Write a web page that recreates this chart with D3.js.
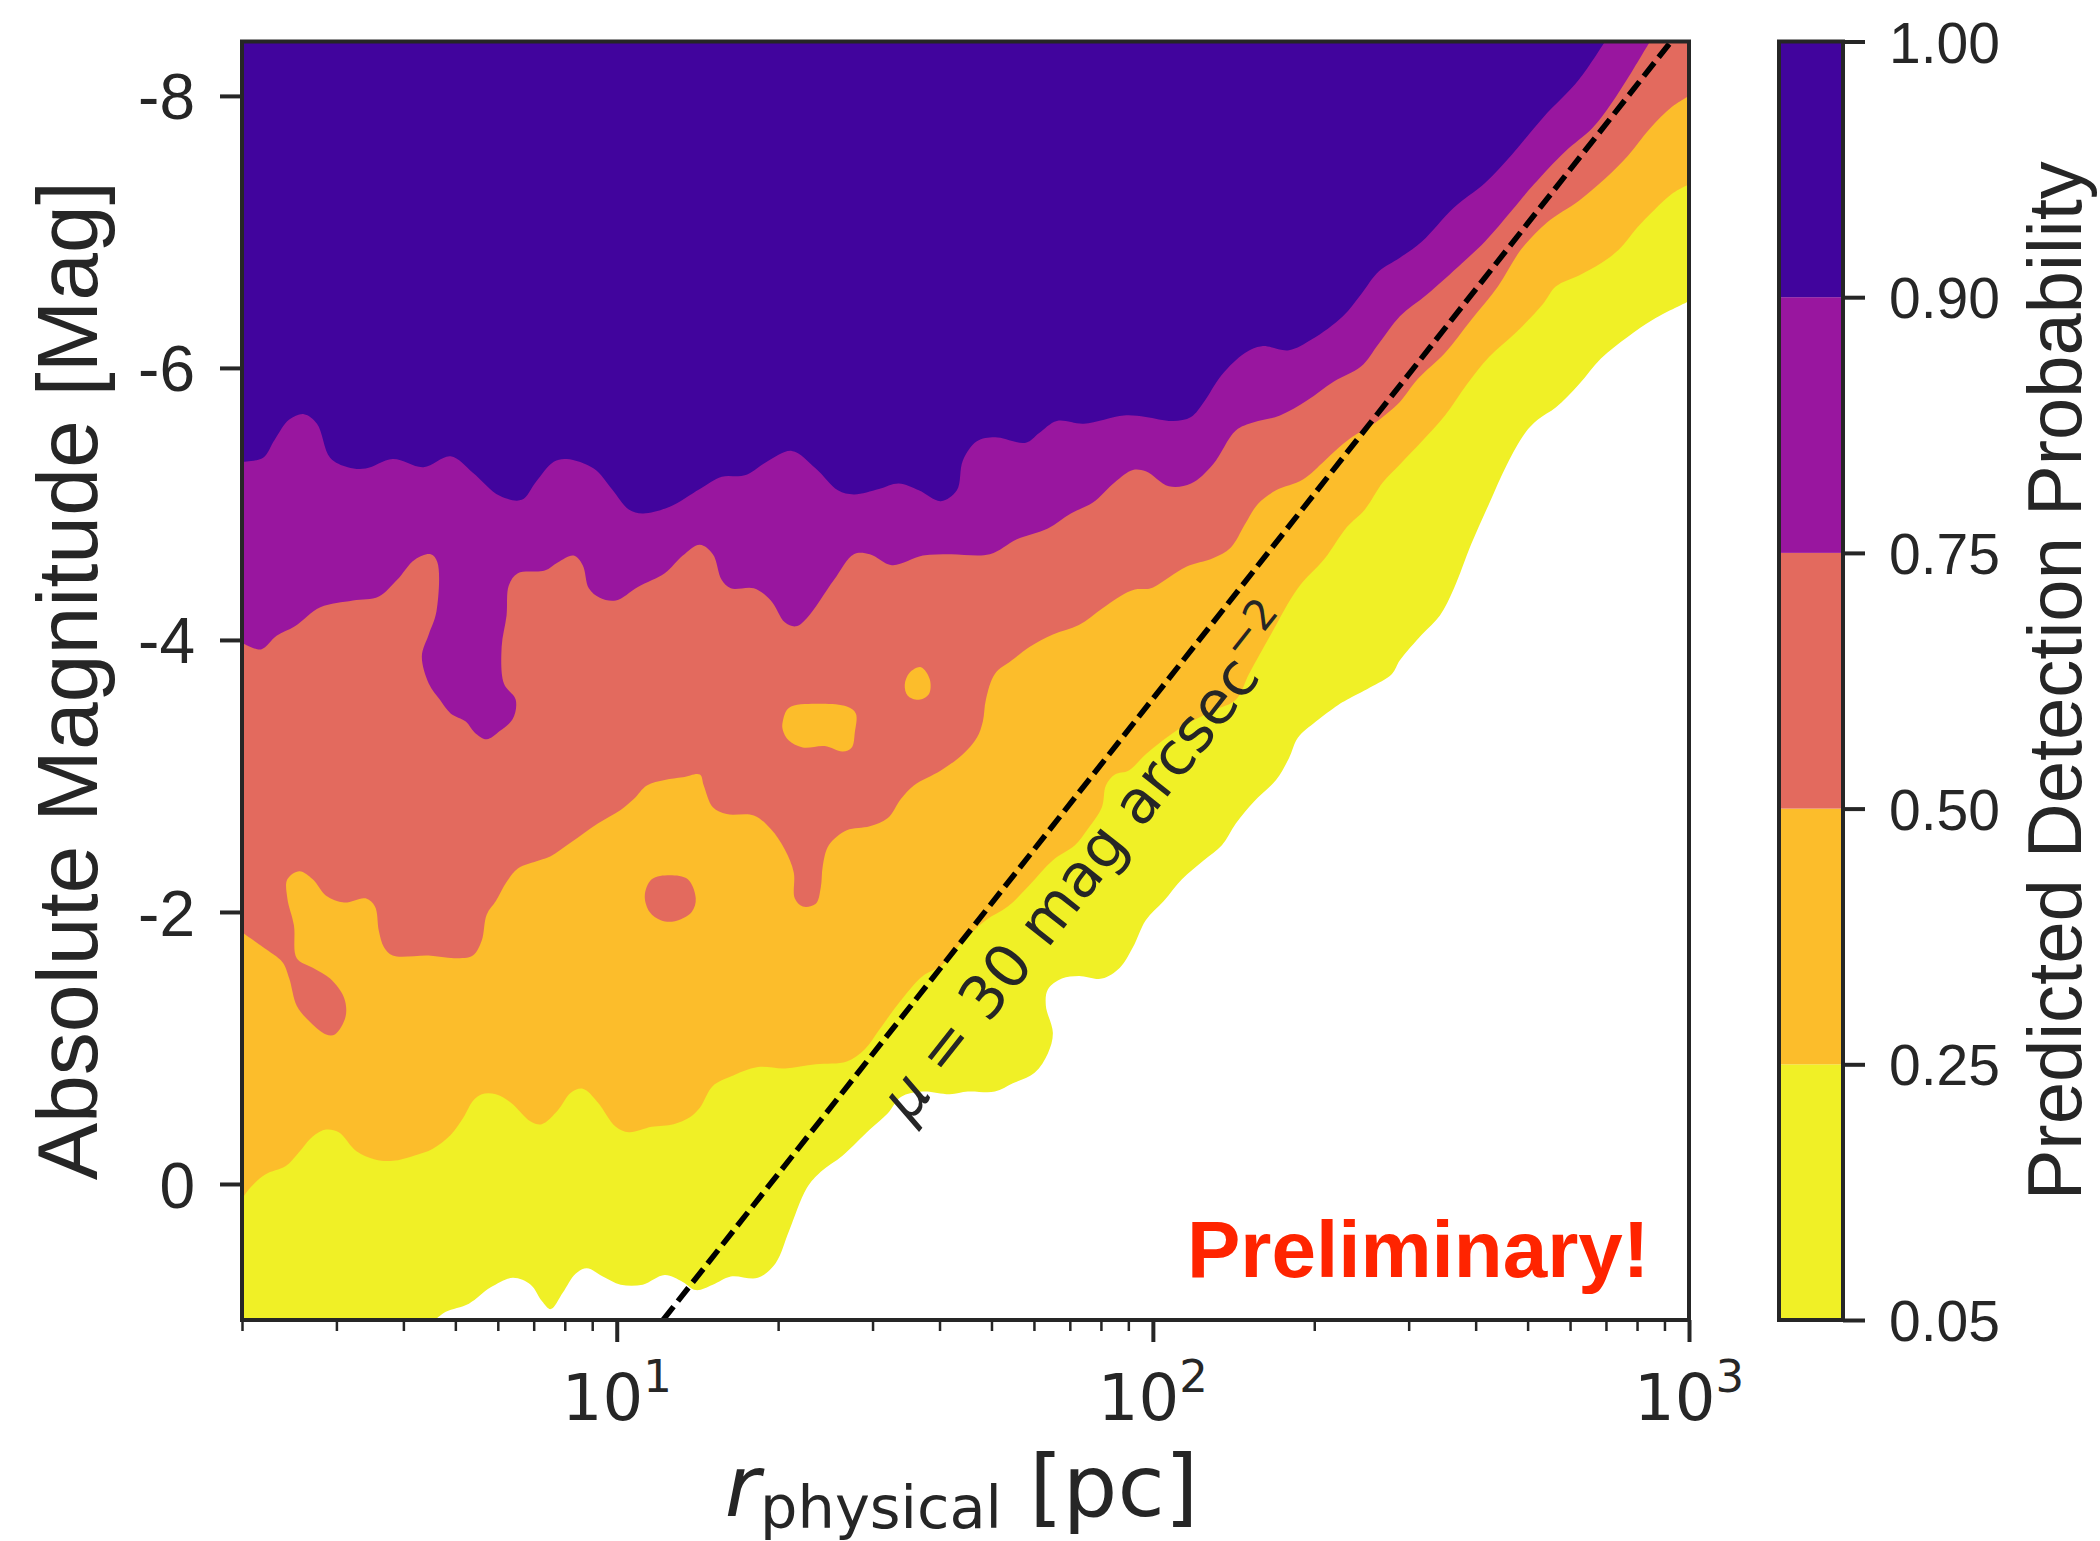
<!DOCTYPE html>
<html>
<head>
<meta charset="utf-8">
<script src="https://cdn.jsdelivr.net/npm/d3@7"></script>
<style>
  body { margin: 0; background: #ffffff; }
  svg { display: block; }
</style>
</head>
<body>
<svg id="chart" width="2100" height="1541"></svg>
<script>
// ---- data -------------------------------------------------------------
// Contour levels of the predicted detection probability and their fills
const levels = [0.05, 0.25, 0.5, 0.75, 0.9, 1.0];
const levelLabels = ["0.05", "0.25", "0.50", "0.75", "0.90", "1.00"];
const bandColors = ["#f0f026", "#fcbd2b", "#e36a5e", "#99169f", "#41049d"];

// Axis ranges and ticks
const rRange = [2, 1000];          // r_physical [pc]
const magRange = [1, -8.4];        // absolute magnitude (bright at top)
const xMajorTicks = [10, 100, 1000];
const xMinorTicks = [2, 3, 4, 5, 6, 7, 8, 9, 20, 30, 40, 50, 60, 70, 80, 90,
                     200, 300, 400, 500, 600, 700, 800, 900];
const yTicks = [-8, -6, -4, -2, 0];

// Lower edge of each probability region, [r (pc), M (mag)], left to right
const contour005 = [[4.58,1.0],[4.80,0.94],[5.30,0.88],[5.82,0.76],[6.40,0.69],[6.91,0.74],[7.25,0.86],[7.53,0.92],[7.93,0.80],[8.38,0.66],[8.79,0.62],[9.42,0.68],[10.17,0.74],[11.18,0.74],[12.29,0.67],[13.28,0.72],[14.04,0.78],[15.11,0.74],[16.32,0.68],[18.33,0.69],[19.80,0.58],[20.94,0.35],[22.62,0.03],[24.02,-0.09],[26.40,-0.21],[29.65,-0.40],[32.04,-0.52],[33.88,-0.64],[37.24,-0.68],[41.82,-0.66],[45.18,-0.68],[50.73,-0.68],[54.81,-0.74],[60.24,-0.82],[63.70,-0.96],[65.09,-1.11],[63.15,-1.31],[63.70,-1.43],[67.65,-1.51],[72.77,-1.53],[80.33,-1.51],[86.79,-1.59],[91.78,-1.74],[97.0,-1.94],[104.8,-2.08],[113.3,-2.24],[124.5,-2.38],[134.5,-2.49],[142.8,-2.65],[154.3,-2.81],[169.7,-2.97],[179.4,-3.13],[186.4,-3.28],[201.4,-3.40],[221.3,-3.52],[230.1,-3.56],[254.0,-3.65],[279.2,-3.75],[288.9,-3.85],[317.6,-4.04],[343.1,-4.18],[364.5,-4.38],[392.0,-4.70],[423.6,-5.0],[457.6,-5.29],[494.3,-5.52],[522.7,-5.62],[564.9,-5.71],[623.5,-5.88],[685.1,-6.07],[769.4,-6.23],[860.5,-6.36],[1000,-6.49]];

const contour025 = [[2.0,0.11],[2.07,0.03],[2.21,-0.07],[2.41,-0.13],[2.55,-0.23],[2.71,-0.35],[2.87,-0.40],[3.03,-0.38],[3.27,-0.24],[3.54,-0.18],[3.82,-0.17],[4.20,-0.21],[4.54,-0.26],[4.90,-0.36],[5.18,-0.49],[5.39,-0.61],[5.60,-0.66],[5.95,-0.66],[6.34,-0.60],[6.91,-0.46],[7.25,-0.44],[7.76,-0.54],[8.21,-0.67],[8.64,-0.70],[9.22,-0.60],[9.96,-0.42],[10.53,-0.38],[11.62,-0.42],[12.77,-0.44],[13.69,-0.49],[14.29,-0.56],[15.11,-0.72],[16.32,-0.79],[18.33,-0.86],[20.58,-0.85],[23.51,-0.88],[26.86,-0.90],[29.02,-0.99],[30.83,-1.13],[33.88,-1.35],[37.24,-1.53],[40.23,-1.60],[42.54,-1.71],[45.18,-1.82],[48.81,-1.94],[53.63,-2.04],[58.95,-2.20],[65.09,-2.38],[71.54,-2.49],[75.62,-2.61],[80.33,-2.77],[81.73,-2.93],[84.95,-3.01],[90.22,-3.04],[97.0,-3.16],[113.3,-3.36],[129.4,-3.48],[142.8,-3.56],[151.1,-3.75],[166.0,-4.04],[186.4,-4.38],[209.4,-4.60],[230.1,-4.83],[248.6,-4.96],[268.6,-5.16],[288.9,-5.29],[317.6,-5.46],[350.6,-5.65],[385.3,-5.88],[423.6,-6.08],[475.6,-6.26],[534.1,-6.47],[564.9,-6.60],[623.5,-6.68],[685.1,-6.77],[740.3,-6.87],[799.8,-7.03],[860.5,-7.16],[929.6,-7.28],[1000,-7.35]];

const contour050 = [[2.0,-1.85],[2.19,-1.74],[2.38,-1.63],[2.45,-1.51],[2.53,-1.31],[2.65,-1.21],[2.87,-1.10],[2.98,-1.10],[3.12,-1.23],[3.10,-1.37],[2.92,-1.51],[2.71,-1.59],[2.53,-1.66],[2.50,-1.90],[2.43,-2.10],[2.43,-2.24],[2.56,-2.30],[2.71,-2.24],[2.87,-2.12],[3.10,-2.07],[3.40,-2.10],[3.54,-2.04],[3.60,-1.86],[3.68,-1.74],[3.82,-1.68],[4.46,-1.68],[4.99,-1.66],[5.39,-1.68],[5.60,-1.79],[5.72,-1.98],[5.95,-2.08],[6.23,-2.22],[6.54,-2.32],[7.18,-2.38],[7.53,-2.41],[8.21,-2.51],[9.22,-2.65],[10.17,-2.75],[10.76,-2.83],[11.38,-2.93],[12.29,-2.97],[13.28,-2.99],[14.29,-3.01],[14.53,-2.93],[15.11,-2.77],[16.04,-2.72],[18.02,-2.71],[19.38,-2.61],[20.58,-2.46],[21.39,-2.29],[21.48,-2.10],[22.23,-2.04],[23.51,-2.06],[24.02,-2.18],[24.23,-2.34],[24.86,-2.49],[26.86,-2.60],[29.65,-2.63],[32.04,-2.69],[33.88,-2.83],[35.82,-2.93],[40.23,-3.04],[44.22,-3.16],[46.95,-3.28],[48.18,-3.40],[48.81,-3.56],[50.73,-3.75],[54.57,-3.85],[58.95,-3.95],[65.09,-4.04],[72.77,-4.11],[80.33,-4.23],[86.79,-4.32],[92.56,-4.37],[99.15,-4.38],[107.1,-4.46],[115.7,-4.54],[129.4,-4.60],[139.8,-4.68],[148.5,-4.85],[157.0,-5.0],[169.7,-5.10],[190.5,-5.18],[209.4,-5.32],[226.2,-5.44],[239.2,-5.51],[258.4,-5.59],[274.4,-5.67],[288.9,-5.75],[312.2,-5.92],[350.6,-6.11],[392.0,-6.35],[440.4,-6.60],[486.0,-6.87],[543.4,-7.07],[623.5,-7.23],[697.0,-7.39],[769.4,-7.56],[845.7,-7.76],[929.6,-7.92],[1000,-8.0]];

const contour075 = [[2.0,-3.98],[2.17,-3.93],[2.32,-4.03],[2.51,-4.10],[2.80,-4.24],[3.22,-4.29],[3.60,-4.32],[3.89,-4.44],[4.20,-4.59],[4.50,-4.63],[4.63,-4.57],[4.61,-4.21],[4.46,-4.04],[4.33,-3.88],[4.46,-3.68],[4.68,-3.56],[4.90,-3.46],[5.23,-3.40],[5.43,-3.32],[5.72,-3.27],[6.05,-3.33],[6.40,-3.42],[6.48,-3.56],[6.16,-3.68],[6.10,-3.95],[6.23,-4.18],[6.29,-4.40],[6.54,-4.49],[7.34,-4.51],[7.76,-4.57],[8.31,-4.62],[8.64,-4.55],[8.87,-4.38],[9.30,-4.31],[9.96,-4.29],[10.95,-4.39],[12.29,-4.49],[13.28,-4.62],[14.29,-4.70],[15.11,-4.63],[15.70,-4.44],[16.32,-4.38],[18.02,-4.38],[19.38,-4.29],[20.58,-4.13],[21.58,-4.10],[22.62,-4.16],[25.41,-4.44],[27.69,-4.63],[29.65,-4.63],[32.60,-4.55],[37.24,-4.62],[41.82,-4.63],[49.65,-4.63],[55.76,-4.74],[63.70,-4.82],[70.31,-4.93],[77.29,-5.01],[84.95,-5.16],[91.78,-5.25],[97.0,-5.24],[107.1,-5.13],[117.8,-5.15],[129.4,-5.29],[142.8,-5.54],[154.3,-5.60],[172.6,-5.65],[193.8,-5.76],[217.6,-5.90],[244.4,-6.01],[264.0,-6.18],[288.9,-6.38],[324.5,-6.54],[377.2,-6.77],[416.4,-6.93],[467.6,-7.16],[513.8,-7.35],[587.0,-7.59],[659.2,-7.76],[712.2,-7.93],[782.8,-8.18],[845.7,-8.4]];

const contour090 = [[2.0,-5.31],[2.19,-5.34],[2.30,-5.47],[2.45,-5.62],[2.61,-5.66],[2.76,-5.59],[2.92,-5.34],[3.15,-5.27],[3.40,-5.26],[3.82,-5.33],[4.36,-5.27],[4.90,-5.35],[5.39,-5.23],[6.05,-5.06],[6.65,-5.03],[7.06,-5.16],[7.63,-5.31],[8.07,-5.33],[9.06,-5.26],[9.79,-5.11],[10.53,-4.96],[11.18,-4.93],[12.56,-4.98],[14.29,-5.11],[15.70,-5.20],[17.33,-5.21],[19.05,-5.31],[21.21,-5.39],[23.51,-5.26],[25.85,-5.10],[27.69,-5.07],[30.83,-5.11],[33.58,-5.15],[36.60,-5.10],[40.23,-5.02],[43.09,-5.10],[44.22,-5.32],[46.95,-5.46],[50.73,-5.49],[57.96,-5.45],[61.28,-5.52],[66.22,-5.61],[74.33,-5.59],[88.30,-5.65],[97.0,-5.64],[109.0,-5.61],[117.8,-5.64],[124.5,-5.75],[134.5,-5.95],[148.5,-6.11],[159.7,-6.16],[179.4,-6.13],[198.0,-6.21],[226.2,-6.38],[244.4,-6.54],[264.0,-6.71],[288.9,-6.81],[317.6,-6.93],[364.5,-7.18],[416.4,-7.36],[467.6,-7.57],[534.1,-7.84],[623.5,-8.12],[697.0,-8.4]];

// Closed pockets: two orange (0.25-0.5) inside the red band, one red inside orange
const orangePocketA = [[20.40,-3.40],[20.94,-3.50],[23.51,-3.53],[26.86,-3.51],[27.92,-3.46],[27.80,-3.32],[27.44,-3.21],[26.40,-3.18],[24.44,-3.22],[22.23,-3.21],[20.94,-3.26],[20.40,-3.34]];
const orangePocketB = [[34.45,-3.67],[35.20,-3.76],[36.92,-3.80],[38.37,-3.71],[38.20,-3.60],[36.60,-3.56],[34.90,-3.59]];
const redPocket = [[11.28,-2.12],[11.62,-2.24],[12.56,-2.27],[13.57,-2.24],[14.04,-2.10],[13.80,-2.00],[12.77,-1.93],[12.08,-1.94],[11.52,-2.00]];

// Constant surface-brightness line, mu = 30 mag arcsec^-2
const mu30Line = [{ r: 12.2, M: 1.0 }, { r: 926, M: -8.4 }];
const mu30LabelAt = { r: 76.9, M: -2.34 };

// ---- layout -----------------------------------------------------------
const ink = "#262626";
const sans = "'Liberation Sans', Arial, sans-serif";
const dejavu = "'DejaVu Sans', sans-serif";
const plot = { left: 242, right: 1689, top: 41.5, bottom: 1320 };
const cbar = { left: 1779, width: 64 };

const svg = d3.select("#chart");
const x = d3.scaleLog().domain(rRange).range([plot.left, plot.right]);
const y = d3.scaleLinear().domain(magRange).range([plot.bottom, plot.top]);

svg.append("defs").append("clipPath").attr("id", "plot-clip")
  .append("rect")
  .attr("x", plot.left).attr("y", plot.top)
  .attr("width", plot.right - plot.left).attr("height", plot.bottom - plot.top);

const gPlot = svg.append("g").attr("clip-path", "url(#plot-clip)");

const edge = d3.line().x(d => x(d[0])).y(d => y(d[1])).curve(d3.curveCatmullRom.alpha(0.5));
const loop = d3.line().x(d => x(d[0])).y(d => y(d[1])).curve(d3.curveCatmullRomClosed.alpha(0.5));

const rMin = rRange[0], rMax = rRange[1], mTop = magRange[1], mBottom = magRange[0];

// each filled region: its lower edge, then back along the frame
const regions = [
  { edge: contour005, fill: bandColors[0], frame: [[rMax, mTop], [rMin, mTop], [rMin, mBottom]] },
  { edge: contour025, fill: bandColors[1], frame: [[rMax, mTop], [rMin, mTop]] },
  { edge: contour050, fill: bandColors[2], frame: [[rMax, mTop], [rMin, mTop]] },
  { edge: contour075, fill: bandColors[3], frame: [[rMin, mTop]] },
  { edge: contour090, fill: bandColors[4], frame: [[rMin, mTop]] }
];

gPlot.selectAll("path.region")
  .data(regions)
  .join("path")
  .attr("class", "region")
  .attr("fill", d => d.fill)
  .attr("d", d => edge(d.edge) + d.frame.map(p => `L${x(p[0])},${y(p[1])}`).join("") + "Z");

const pockets = [
  { pts: orangePocketA, fill: bandColors[1] },
  { pts: orangePocketB, fill: bandColors[1] },
  { pts: redPocket, fill: bandColors[2] }
];
gPlot.selectAll("path.pocket")
  .data(pockets)
  .join("path")
  .attr("class", "pocket")
  .attr("fill", d => d.fill)
  .attr("d", d => loop(d.pts));

// surface-brightness limit
gPlot.append("path")
  .attr("d", d3.line().x(d => x(d.r)).y(d => y(d.M))(mu30Line))
  .attr("fill", "none")
  .attr("stroke", "#000")
  .attr("stroke-width", 5.5)
  .attr("stroke-dasharray", "17,7");

const p0 = [x(mu30Line[0].r), y(mu30Line[0].M)];
const p1 = [x(mu30Line[1].r), y(mu30Line[1].M)];
const angle = Math.atan2(p1[1] - p0[1], p1[0] - p0[0]) * 180 / Math.PI;
const muLabel = svg.append("text")
  .attr("transform", `translate(${x(mu30LabelAt.r)},${y(mu30LabelAt.M)}) rotate(${angle})`)
  .attr("text-anchor", "middle")
  .attr("dy", "0.28em")
  .attr("font-family", dejavu)
  .attr("font-size", 60)
  .attr("fill", ink);
muLabel.append("tspan").attr("font-style", "italic").text("μ");
muLabel.append("tspan").text(" = 30 mag arcsec");
muLabel.append("tspan").attr("font-size", 42).attr("dy", "-0.62em").text("−2");

// "Preliminary!" stamp
svg.append("text")
  .attr("x", 1187).attr("y", 1277)
  .attr("font-family", sans)
  .attr("font-weight", "bold")
  .attr("font-size", 80)
  .attr("fill", "#ff2400")
  .text("Preliminary!");

// ---- axes -------------------------------------------------------------
const gx = svg.append("g").attr("transform", `translate(0,${plot.bottom})`);
gx.call(d3.axisBottom(x).tickValues(xMinorTicks).tickSize(11).tickFormat(""));
gx.selectAll(".tick line").attr("stroke", ink).attr("stroke-width", 2.5);
gx.select(".domain").remove();

const gxMajor = svg.append("g").attr("transform", `translate(0,${plot.bottom})`);
gxMajor.call(d3.axisBottom(x).tickValues(xMajorTicks).tickSize(22).tickFormat(""));
gxMajor.selectAll(".tick line").attr("stroke", ink).attr("stroke-width", 4);
gxMajor.select(".domain").remove();

// decade labels, 10 with a raised exponent
const xLabels = svg.append("g")
  .selectAll("text")
  .data(xMajorTicks)
  .join("text")
  .attr("x", d => x(d))
  .attr("y", 1420)
  .attr("text-anchor", "middle")
  .attr("font-family", dejavu)
  .attr("font-size", 64)
  .attr("fill", ink);
xLabels.append("tspan").text("10");
xLabels.append("tspan")
  .attr("font-size", 45)
  .attr("dy", -28)
  .text(d => String(Math.round(Math.log10(d))));

const gy = svg.append("g").attr("transform", `translate(${plot.left},0)`);
gy.call(d3.axisLeft(y).tickValues(yTicks).tickSize(22).tickPadding(25).tickFormat(d => String(d)));
gy.select(".domain").remove();
gy.selectAll(".tick line").attr("stroke", ink).attr("stroke-width", 4);
gy.selectAll(".tick text")
  .attr("font-family", sans)
  .attr("font-size", 64)
  .attr("fill", ink)
  .attr("dy", "0.36em");

// frame around the plot
svg.append("rect")
  .attr("x", plot.left).attr("y", plot.top)
  .attr("width", plot.right - plot.left).attr("height", plot.bottom - plot.top)
  .attr("fill", "none").attr("stroke", ink).attr("stroke-width", 4);

// axis titles
const xTitle = svg.append("text")
  .attr("x", (plot.left + plot.right) / 2 - 4)
  .attr("y", 1516)
  .attr("text-anchor", "middle")
  .attr("font-family", dejavu)
  .attr("font-size", 86)
  .attr("fill", ink);
xTitle.append("tspan").attr("font-style", "italic").text("r");
xTitle.append("tspan").attr("font-size", 59).attr("dy", 12).text("physical");
xTitle.append("tspan").attr("dy", -12).text(" [pc]");

svg.append("text")
  .attr("transform", `translate(97,${(plot.top + plot.bottom) / 2}) rotate(-90)`)
  .attr("text-anchor", "middle")
  .attr("font-family", sans)
  .attr("font-size", 86)
  .attr("fill", ink)
  .text("Absolute Magnitude [Mag]");

// ---- colour bar -------------------------------------------------------
const cb = d3.scalePoint().domain(levels).range([plot.bottom, plot.top]);
const bands = d3.range(levels.length - 1).map(i => ({ lo: levels[i], hi: levels[i + 1], fill: bandColors[i] }));

svg.append("g").selectAll("rect")
  .data(bands)
  .join("rect")
  .attr("x", cbar.left)
  .attr("width", cbar.width)
  .attr("y", d => cb(d.hi))
  .attr("height", d => cb(d.lo) - cb(d.hi))
  .attr("fill", d => d.fill);

svg.append("rect")
  .attr("x", cbar.left).attr("y", plot.top)
  .attr("width", cbar.width).attr("height", plot.bottom - plot.top)
  .attr("fill", "none").attr("stroke", ink).attr("stroke-width", 4);

const gc = svg.append("g").attr("transform", `translate(${cbar.left + cbar.width},0)`);
gc.call(d3.axisRight(cb).tickValues(levels).tickSize(22).tickPadding(24)
  .tickFormat(d => levelLabels[levels.indexOf(d)]));
gc.select(".domain").remove();
gc.selectAll(".tick line").attr("stroke", ink).attr("stroke-width", 4);
gc.selectAll(".tick text")
  .attr("font-family", sans)
  .attr("font-size", 57)
  .attr("fill", ink)
  .attr("dy", "0.36em");

svg.append("text")
  .attr("transform", `translate(2081,${(plot.top + plot.bottom) / 2}) rotate(-90)`)
  .attr("text-anchor", "middle")
  .attr("font-family", sans)
  .attr("font-size", 76)
  .attr("fill", ink)
  .text("Predicted Detection Probability");
</script>
</body>
</html>
